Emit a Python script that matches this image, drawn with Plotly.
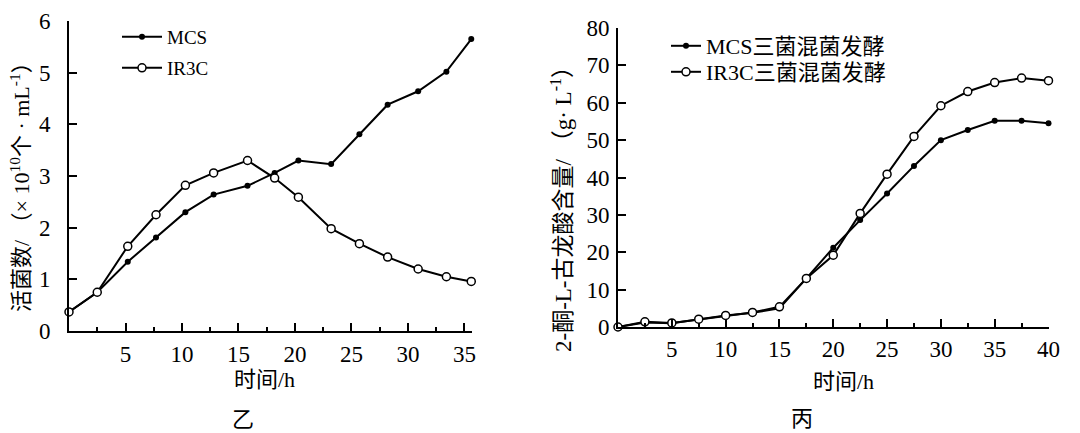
import plotly.graph_objects as go

# ---- data: chart 乙 (viable cell count) ----
t_live = [0, 2.5, 5.2, 7.7, 10.3, 12.8, 15.8, 18.2, 20.3, 23.2, 25.7, 28.2, 30.9, 33.4, 35.6]
mcs_live = [0.37, 0.75, 1.34, 1.81, 2.30, 2.64, 2.81, 3.06, 3.30, 3.23, 3.81, 4.38, 4.64, 5.02, 5.65]
ir3c_live = [0.37, 0.75, 1.64, 2.25, 2.82, 3.06, 3.30, 2.96, 2.59, 1.98, 1.69, 1.43, 1.20, 1.05, 0.96]

# ---- data: chart 丙 (2-KLG content) ----
t_acid = [0, 2.5, 5, 7.5, 10, 12.5, 15, 17.5, 20, 22.5, 25, 27.5, 30, 32.5, 35, 37.5, 40]
mcs_acid = [0, 1.2, 1.0, 2.0, 3.1, 3.8, 5.0, 13.0, 21.2, 28.6, 35.7, 43.1, 50.0, 52.7, 55.2, 55.2, 54.5]
ir3c_acid = [0, 1.4, 1.1, 2.1, 3.1, 3.9, 5.4, 13.0, 19.2, 30.4, 40.9, 51.0, 59.2, 63.0, 65.4, 66.6, 65.9]

left_xticks = [5, 10, 15, 20, 25, 30, 35]
left_xminor = [2.5, 7.5, 12.5, 17.5, 22.5, 27.5, 32.5]
right_xticks = [5, 10, 15, 20, 25, 30, 35, 40]
right_xminor = [2.5, 7.5, 12.5, 17.5, 22.5, 27.5, 32.5, 37.5]

W, H = 1080, 433
def fx(p):
    return p / W
def fy(p):
    return 1 - p / H

NUM = "Liberation Serif"
CJK = "Liberation Serif, Noto Sans CJK SC"
LEG = "Liberation Serif, Noto Sans CJK SC"

line = dict(color="black", width=2)
filled = dict(symbol="circle", size=6, color="black")
opened = dict(symbol="circle", size=8, color="white", line=dict(color="black", width=1.5))

fig = go.Figure()
fig.add_trace(go.Scatter(x=t_live, y=mcs_live, name="MCS", mode="lines+markers", line=line,
                         marker=filled, xaxis="x", yaxis="y", legend="legend", cliponaxis=False))
fig.add_trace(go.Scatter(x=t_live, y=ir3c_live, name="IR3C", mode="lines+markers", line=line,
                         marker=opened, xaxis="x", yaxis="y", legend="legend2", cliponaxis=False))
fig.add_trace(go.Scatter(x=t_acid, y=mcs_acid, name="MCS三菌混菌发酵", mode="lines+markers", line=line,
                         marker=filled, xaxis="x2", yaxis="y2", legend="legend3", cliponaxis=False))
fig.add_trace(go.Scatter(x=t_acid, y=ir3c_acid, name="IR3C三菌混菌发酵", mode="lines+markers", line=line,
                         marker=opened, xaxis="x2", yaxis="y2", legend="legend4", cliponaxis=False))

axis_common = dict(showline=True, linecolor="black", linewidth=2, showgrid=False, zeroline=False,
                   ticks="inside", ticklen=8, tickwidth=2, tickcolor="black", automargin=False,
                   tickfont=dict(family=NUM, size=23, color="black"))

def leg(xp, yp, size, iw=30):
    return dict(x=fx(xp), y=fy(yp), xanchor="left", yanchor="middle", bgcolor="rgba(0,0,0,0)",
                itemwidth=iw, font=dict(family=LEG, size=size, color="black"))

px_per_unit = 400 / 35.4
fig.update_layout(
    width=W, height=H, margin=dict(l=0, r=0, t=0, b=0, autoexpand=False),
    paper_bgcolor="white", plot_bgcolor="white",
    xaxis=dict(domain=[fx(69), fx(69 + 35.7 * px_per_unit)], range=[0, 35.7], anchor="y", tickmode="array",
               tickvals=left_xticks, ticklabelstandoff=1,
               minor=dict(tickvals=left_xminor, ticks="inside", ticklen=4, tickwidth=2, tickcolor="black"),
               **axis_common),
    yaxis=dict(domain=[fy(331), fy(21)], range=[0, 6], anchor="x", dtick=1, ticklabelstandoff=12,
               **axis_common),
    xaxis2=dict(domain=[fx(618), fx(1048.5)], range=[0, 40], anchor="y2", tickmode="array",
                tickvals=right_xticks, ticklabelstandoff=0,
                minor=dict(tickvals=right_xminor, ticks="inside", ticklen=4, tickwidth=2, tickcolor="black"),
                **axis_common),
    yaxis2=dict(domain=[fy(327), fy(28)], range=[0, 80], anchor="x2", dtick=10, ticklabelstandoff=2,
                **axis_common),
    legend=leg(117, 37, 19, 40),
    legend2=leg(117, 68, 19, 40),
    legend3=leg(666, 46, 22, 30),
    legend4=leg(666, 72, 22, 30),
    showlegend=True,
)

annotations = [
    dict(text="活菌数/ （× 10<sup>10</sup>个 · mL<sup>-1</sup>）", x=fx(20), y=fy(182), textangle=-90,
         font=dict(family=CJK, size=22, color="black")),
    dict(text="2-酮-L-古龙酸含量/ （g· L<sup>-1</sup>）", x=fx(561), y=fy(204), textangle=-90,
         font=dict(family=CJK, size=23, color="black")),
    dict(text="时间/h", x=fx(264), y=fy(379), font=dict(family=CJK, size=22, color="black")),
    dict(text="时间/h", x=fx(843), y=fy(381), font=dict(family=CJK, size=22, color="black")),
    dict(text="乙", x=fx(243), y=fy(419), font=dict(family=CJK, size=22, color="black")),
    dict(text="丙", x=fx(802), y=fy(418), font=dict(family=CJK, size=22, color="black")),
]
for a in annotations:
    a.update(xref="paper", yref="paper", showarrow=False, xanchor="center", yanchor="middle")
fig.update_layout(annotations=annotations)

fig.write_html("out.html")
